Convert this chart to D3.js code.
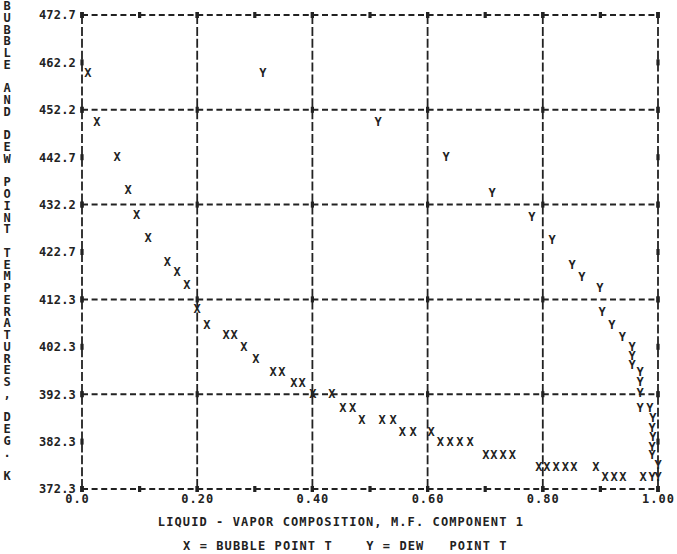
<!DOCTYPE html>
<html>
<head>
<meta charset="utf-8">
<script src="https://cdn.jsdelivr.net/npm/d3@7"></script>
<style>
  body { margin: 0; background: #fff; }
  svg text { font-family: "DejaVu Sans Mono", monospace; font-weight: bold; fill: #222; }
</style>
</head>
<body>
<svg id="drawing_region"></svg>
<script>
// axis ticks
const xTicks = [0, 0.2, 0.4, 0.6, 0.8, 1.0];
const xTickLabels = ['0.0', '0.20', '0.40', '0.60', '0.80', '1.00'];
const yTickLabels = ['372.3', '382.3', '392.3', '402.3', '412.3', '422.7', '432.2', '442.7', '452.2', '462.2', '472.7'];

// bubble point curve (X)
const bubbleComp = [0.010, 0.026, 0.061, 0.080, 0.095, 0.115, 0.148, 0.165, 0.182, 0.200,
    0.217, 0.250, 0.264, 0.281, 0.302, 0.332, 0.347, 0.368, 0.382, 0.401,
    0.434, 0.453, 0.470, 0.486, 0.521, 0.540, 0.556, 0.575, 0.606, 0.622,
    0.639, 0.656, 0.674, 0.701, 0.715, 0.731, 0.747, 0.793, 0.807, 0.823,
    0.839, 0.854, 0.892, 0.908, 0.924, 0.939, 0.974];
const bubbleTemp = [460.4, 450.0, 442.6, 435.6, 430.3, 425.5, 420.4, 418.3, 415.5, 410.4,
    407.0, 404.9, 404.9, 402.4, 399.8, 397.1, 397.1, 394.7, 394.7, 392.4,
    392.4, 389.4, 389.4, 386.9, 386.9, 386.9, 384.4, 384.4, 384.4, 382.2,
    382.2, 382.2, 382.2, 379.5, 379.5, 379.5, 379.5, 377.1, 377.1, 377.1,
    377.1, 377.1, 377.1, 374.8, 374.8, 374.8, 374.8];

// dew point curve (Y)
const dewComp = [0.314, 0.514, 0.632, 0.712, 0.781, 0.816, 0.851, 0.868, 0.899, 0.903,
    0.920, 0.938, 0.955, 0.955, 0.955, 0.969, 0.969, 0.969, 0.969, 0.986,
    0.991, 0.990, 0.991, 0.990, 0.990, 1.000, 1.000, 0.990];
const dewTemp = [460.4, 450.0, 442.6, 435.0, 429.9, 425.0, 419.7, 417.2, 414.9, 409.8,
    407.0, 404.5, 402.4, 400.5, 398.6, 397.1, 395.0, 392.6, 389.4, 389.6,
    387.3, 385.2, 383.3, 381.2, 379.5, 377.4, 374.8, 374.8];

const yTitle = 'BUBBLE AND DEW POINT TEMPERATURES, DEG. K';
const xTitle = 'LIQUID - VAPOR COMPOSITION, M.F. COMPONENT 1';
const legendText = 'X = BUBBLE POINT T    Y = DEW   POINT T';

const width = 677, height = 554;
const plot = {left: 82, right: 658, top: 15, bottom: 489};

const svg = d3.select('#drawing_region')
    .attr('width', width)
    .attr('height', height);

const yMin = 372.3, yMax = 472.7;
const xscale = d3.scaleLinear().domain([0, 1]).range([plot.left, plot.right]);
const yscale = d3.scaleLinear().domain([yMin, yMax]).range([plot.bottom, plot.top]);

const yTickPos = yTickLabels.map((d, i) => yMin + i * (yMax - yMin) / 10);
const ink = '#222';

// horizontal dashed grid (every other tick)
const grid = svg.append('g');
grid.selectAll('line.h').data(yTickPos.filter((d, i) => i % 2 === 0)).enter()
    .append('line')
    .attr('x1', xscale(0)).attr('x2', xscale(1))
    .attr('y1', d => yscale(d)).attr('y2', d => yscale(d))
    .attr('stroke', ink).attr('stroke-width', 2)
    .attr('stroke-dasharray', '6,3.6');

// vertical grid made of "I" characters
grid.selectAll('line.v').data(xTicks).enter()
    .append('line')
    .attr('x1', d => xscale(d)).attr('x2', d => xscale(d))
    .attr('y1', yscale(yMax)).attr('y2', yscale(yMin))
    .attr('stroke', ink).attr('stroke-width', 1.8)
    .attr('stroke-dasharray', '9,2.9');

// "+" marks: border ticks at every 0.1 and at every y tick on both sides
const xMarks = d3.range(0, 11).map(i => i / 10);
const marks = [];
xMarks.forEach(x => { marks.push([x, yMax]); marks.push([x, yMin]); });
yTickPos.forEach(y => { marks.push([0, y]); marks.push([1, y]); });
xTicks.forEach(x => yTickPos.filter((d, i) => i % 2 === 0).forEach(y => marks.push([x, y])));
grid.selectAll('rect.mark').data(marks).enter()
    .append('rect')
    .attr('x', d => xscale(d[0]) - 1.6)
    .attr('y', d => yscale(d[1]) - 3)
    .attr('width', 3.2).attr('height', 6)
    .attr('fill', ink);

// axes (labels only, line-printer style)
const yaxis = d3.axisLeft(yscale)
    .tickValues(yTickPos)
    .tickFormat((d, i) => yTickLabels[i])
    .tickSize(0).tickPadding(6);
const yaxisGroup = svg.append('g')
    .attr('transform', `translate(${plot.left}, 0)`)
    .call(yaxis);

const xaxis = d3.axisBottom(xscale)
    .tickValues(xTicks)
    .tickFormat((d, i) => xTickLabels[i])
    .tickSize(0).tickPadding(5);
const xaxisGroup = svg.append('g')
    .attr('transform', `translate(0, ${plot.bottom})`)
    .call(xaxis);

[yaxisGroup, xaxisGroup].forEach(g => {
    g.select('.domain').remove();
    g.selectAll('text')
        .attr('font-family', '"DejaVu Sans Mono", monospace')
        .attr('font-weight', 'bold')
        .attr('font-size', 12)
        .attr('fill', ink);
});
yaxisGroup.selectAll('text').attr('letter-spacing', 0.2);
xaxisGroup.selectAll('text').attr('letter-spacing', 1);
xaxisGroup.selectAll('.tick').filter((d, i) => i === 0)
    .select('text').attr('dx', -5);

// points as printed characters
const bubble = bubbleComp.map((c, i) => ({x: c, t: bubbleTemp[i]}));
const dew = dewComp.map((c, i) => ({x: c, t: dewTemp[i]}));

const pts = svg.append('g')
    .attr('font-size', 12)
    .attr('text-anchor', 'middle');

pts.selectAll('text.bubble').data(bubble).enter()
    .append('text')
    .attr('class', 'bubble')
    .attr('x', d => xscale(d.x))
    .attr('y', d => yscale(d.t))
    .attr('dy', '0.35em')
    .text('X');

pts.selectAll('text.dew').data(dew).enter()
    .append('text')
    .attr('class', 'dew')
    .attr('x', d => xscale(d.x))
    .attr('y', d => yscale(d.t))
    .attr('dy', '0.35em')
    .text('Y');

// vertical stacked title
const titleStep = 11.75;
svg.append('g')
    .attr('font-size', 12)
    .attr('text-anchor', 'middle')
    .selectAll('text').data(yTitle.split('')).enter()
    .append('text')
    .attr('x', 7)
    .attr('y', (d, i) => 10 + i * titleStep)
    .text(d => d);

svg.append('text')
    .attr('x', 341).attr('y', 526)
    .attr('text-anchor', 'middle')
    .attr('font-size', 12)
    .attr('letter-spacing', 1.1)
    .text(xTitle);

svg.append('text')
    .attr('x', 183).attr('y', 550)
    .attr('font-size', 12)
    .attr('letter-spacing', 1.1)
    .style('white-space', 'pre')
    .text(legendText);
</script>
</body>
</html>
